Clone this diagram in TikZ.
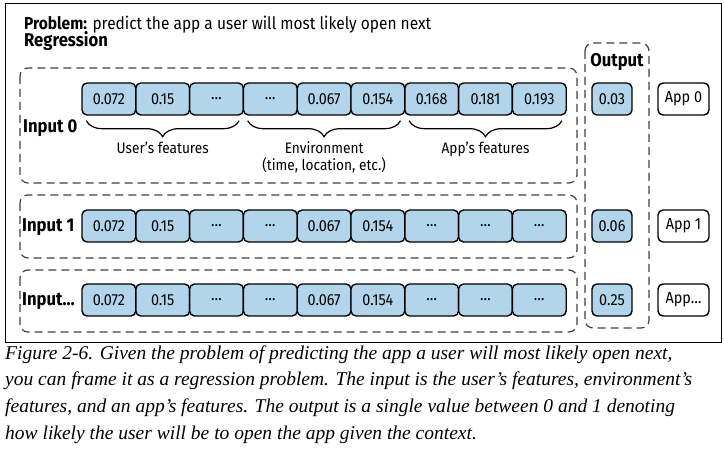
\documentclass[tikz,border=0pt]{standalone}
\usepackage{fontspec}
\setmainfont{Liberation Serif}
\setsansfont{Fira Sans}[FakeStretch=0.9]
\usetikzlibrary{decorations.pathreplacing}
\colorlet{dcol}{black!75!white}
\definecolor{colCell}{RGB}{178,213,236}
\tikzstyle{cell}=[draw, line width=1.4pt, rounded corners=5pt, fill=colCell, minimum width=53.8pt, minimum height=32pt, inner sep=0pt, font=\sffamily\fontsize{16}{16}\selectfont]
\tikzstyle{outcell}=[cell, minimum width=40pt]
\tikzstyle{appcell}=[cell, fill=white, minimum width=51pt]
\tikzstyle{group}=[dcol, dash pattern=on 8pt off 5pt, line width=1.2pt, rounded corners=8pt]
\tikzstyle{head}=[anchor=base west, inner sep=0pt, font=\sffamily\fontsize{17.2}{17.2}\selectfont]
\tikzstyle{inlbl}=[anchor=base west, inner sep=0pt, font=\sffamily\bfseries\fontsize{18.5}{18.5}\selectfont]
\tikzstyle{note}=[anchor=base, inner sep=0pt, font=\sffamily\fontsize{15.2}{15.2}\selectfont]
\tikzstyle{capline}=[anchor=base west, inner sep=0pt, font=\itshape\fontsize{19.5}{19.5}\selectfont]
\tikzstyle{brc}=[decorate, decoration={brace, mirror, amplitude=16pt}, line width=1.2pt]

\begin{document}
\begin{tikzpicture}[x=1pt, y=-1pt]
			\useasboundingbox (0,0) rectangle (724,457);
			% frame
			\draw[line width=0.9pt] (5,3) rectangle (721,342);

			%%% Headings
			\node[head] (title) at (24, 29.5) {\textbf{Problem:} predict the app a user will most likely open next};
			\node[inlbl] (task) at (24, 46.5) {Regression};

			%%% Dashed groups
			\draw[group] (20, 68) rectangle (577, 183);
			\draw[group] (20,195) rectangle (577, 258);
			\draw[group] (20,270) rectangle (577, 332);
			\draw[group] (585,43) rectangle (649, 328);
			\node[inlbl, anchor=base] (outlbl) at (617, 67) {Output};

			%%% Input 0
			\node[inlbl] (in0) at (23, 133) {Input 0};
			\node[cell] (r0c1) at (108.9, 99) {0.072};
			\node[cell] (r0c2) at (162.7, 99) {0.15};
			\node[cell] (r0c3) at (216.5, 99) {\dots};
			\node[cell] (r0c4) at (270.3, 99) {\dots};
			\node[cell] (r0c5) at (324.1, 99) {0.067};
			\node[cell] (r0c6) at (377.9, 99) {0.154};
			\node[cell] (r0c7) at (431.7, 99) {0.168};
			\node[cell] (r0c8) at (485.5, 99) {0.181};
			\node[cell] (r0c9) at (539.3, 99) {0.193};
			\node[outcell] (out0) at (612, 99) {0.03};
			\node[appcell] (app0) at (683.5, 99) {App 0};

			% Braces
			\draw[brc] ([xshift=5pt, yshift=-5pt]r0c1.south west) -- ([xshift=-5pt, yshift=-5pt]r0c3.south east);
			\draw[brc] ([xshift=5pt, yshift=-5pt]r0c4.south west) -- ([xshift=-5pt, yshift=-5pt]r0c6.south east);
			\draw[brc] ([xshift=5pt, yshift=-5pt]r0c7.south west) -- ([xshift=-5pt, yshift=-5pt]r0c9.south east);
			\node[note] (user) at (162.7, 154) {User's features};
			\node[note] (env)  at (324.1, 154) {Environment};
			\node[note] (envx) at (324.1, 171) {(time, location, etc.)};
			\node[note] (appf) at (485.5, 154) {App's features};

			%%% Input 1
			\node[inlbl] (in1) at (22, 231.5) {Input 1};
			\node[cell] (r1c1) at (108.9, 226) {0.072};
			\node[cell] (r1c2) at (162.7, 226) {0.15};
			\node[cell] (r1c3) at (216.5, 226) {\dots};
			\node[cell] (r1c4) at (270.3, 226) {\dots};
			\node[cell] (r1c5) at (324.1, 226) {0.067};
			\node[cell] (r1c6) at (377.9, 226) {0.154};
			\node[cell] (r1c7) at (431.7, 226) {\dots};
			\node[cell] (r1c8) at (485.5, 226) {\dots};
			\node[cell] (r1c9) at (539.3, 226) {\dots};
			\node[outcell] (out1) at (612, 226) {0.06};
			\node[appcell] (app1) at (683.5, 226) {App 1};

			%%% Input ...
			\node[inlbl] (in2) at (22, 305.5) {Input\dots};
			\node[cell] (r2c1) at (108.9, 300) {0.072};
			\node[cell] (r2c2) at (162.7, 300) {0.15};
			\node[cell] (r2c3) at (216.5, 300) {\dots};
			\node[cell] (r2c4) at (270.3, 300) {\dots};
			\node[cell] (r2c5) at (324.1, 300) {0.067};
			\node[cell] (r2c6) at (377.9, 300) {0.154};
			\node[cell] (r2c7) at (431.7, 300) {\dots};
			\node[cell] (r2c8) at (485.5, 300) {\dots};
			\node[cell] (r2c9) at (539.3, 300) {\dots};
			\node[outcell] (out2) at (612, 300) {0.25};
			\node[appcell] (app2) at (683.5, 300) {App\dots};

			%%% Caption
			\node[capline] (cap1) at (5, 360) {Figure 2-6. Given the problem of predicting the app a user will most likely open next,};
			\node[capline] (cap2) at (5, 386) {you can frame it as a regression problem. The input is the user’s features, environment’s};
			\node[capline] (cap3) at (5, 412.5) {features, and an app’s features. The output is a single value between 0 and 1 denoting};
			\node[capline] (cap4) at (5, 439) {how likely the user will be to open the app given the context.};
\end{tikzpicture}
\end{document}
